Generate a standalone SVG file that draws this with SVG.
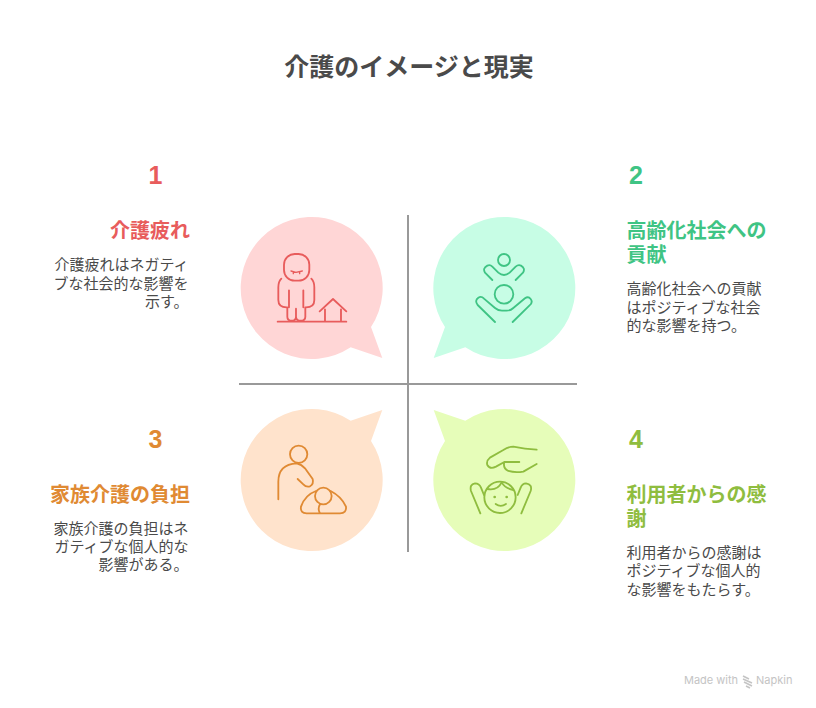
<svg xmlns="http://www.w3.org/2000/svg" width="816" height="708" viewBox="0 0 816 708">
<style>
text{font-family:"Noto Sans CJK JP","Noto Sans",sans-serif;fill:#4a4a4a}
.t{font-size:25px;font-weight:700;text-anchor:middle}
.n{font-family:"Liberation Sans",sans-serif;font-size:25px;font-weight:700;text-anchor:middle}
.h{font-size:20px;font-weight:700}
.b{font-size:15px}
.e{text-anchor:end}
.i{fill:none;stroke-width:5.500;stroke-linecap:round;stroke-linejoin:round}
.ax{stroke:#999;stroke-width:2;fill:none}
.wm{font-family:Inter,Roboto,sans-serif;font-size:11px;fill:#c4c4c4}
</style>
<rect width="816" height="708" fill="#fff"/>
<text class="t" x="409" y="76">介護のイメージと現実</text>
<g id="connectors">
<path class="ax" d="M408 215V552M239 384H577"/>
</g>
<g id="node1">
<path fill="#ffd6d6" d="M371 327L382.300 358L350.700 347.300A71 71 0 1 1 371 327Z"/>
<g class="i" stroke="#e85c5c" transform="translate(230 210) scale(.3333)">
<rect x="162" y="132" width="76" height="80" rx="32"/>
<path d="M183 183L198 187L217 183M190 186V191M209 186V191" stroke-width="4"/>
<path d="M154 206Q145 215 145 232V270Q145 292 170 292M177 241V292M172 292V320Q172 332 185 332Q198 332 198 320V296M198 320Q198 332 212 332Q226 332 226 320V292M220 241V292M244 206Q253 215 253 232V270Q253 292 228 292"/>
<path d="M143 335H349M269 304L309 267L349 304M285 298V335M333 298V335"/>
</g>
<text class="n" x="155.500" y="184" style="fill:#e85c5c">1</text>
<text class="h e" x="190" y="238" style="fill:#e85c5c">介護疲れ</text>
<text class="b e" x="188.500" y="270">介護疲れはネガティ</text>
<text class="b e" x="188.500" y="289">ブな社会的な影響を</text>
<text class="b e" x="188.500" y="307">示す。</text>
</g>
<g id="node2">
<path fill="#c7fde5" d="M445 327L433.700 358L465.300 347.300A71 71 0 1 0 445 327Z"/>
<g class="i" stroke="#3fc484" transform="translate(410 210) scale(.3333)">
<circle cx="282" cy="150" r="18"/>
<path d="M247 210L225 188Q217 175 232 167Q240 163 247 170L265 188Q282 202 299 188L317 170Q325 163 333 167Q347 175 339 188L317 210"/>
<circle cx="282" cy="253" r="28"/>
<path d="M255 336L203 285Q193 272 205 263Q214 257 222 266L255 294Q264 302 276 302H290Q302 302 310 294L345 265Q355 258 362 267Q370 277 358 287L308 336"/>
</g>
<text class="n" x="636" y="184" style="fill:#3fc484">2</text>
<text class="h" x="626.500" y="238" style="fill:#3fc484">高齢化社会への</text>
<text class="h" x="626.500" y="262" style="fill:#3fc484">貢献</text>
<text class="b" x="626.500" y="294">高齢化社会への貢献</text>
<text class="b" x="626.500" y="313">はポジティブな社会</text>
<text class="b" x="626.500" y="331">的な影響を持つ。</text>
</g>
<g id="node3">
<path fill="#ffe3cc" d="M371 441L382.300 410L350.700 420.700A71 71 0 1 0 371 441Z"/>
<g class="i" stroke="#e08a33" transform="translate(230 385) scale(.3333)">
<circle cx="206" cy="208" r="26"/>
<path d="M145 343V290Q145 238 200 235Q215 238 225 250L248 282Q252 297 240 304Q228 307 220 298L203 282"/>
<circle cx="280" cy="333" r="25"/>
<path d="M258 318Q225 330 213 365Q210 385 230 385H330Q350 385 348 365Q335 335 302 318M270 358Q262 372 270 385"/>
</g>
<text class="n" x="155.500" y="448" style="fill:#e08a33">3</text>
<text class="h e" x="190" y="502" style="fill:#e08a33">家族介護の負担</text>
<text class="b e" x="188.500" y="534">家族介護の負担はネ</text>
<text class="b e" x="188.500" y="552">ガティブな個人的な</text>
<text class="b e" x="188.500" y="570">影響がある。</text>
</g>
<g id="node4">
<path fill="#e6fdb9" d="M445 441L433.700 410L465.300 420.700A71 71 0 1 1 445 441Z"/>
<g class="i" stroke="#8fbd3f" transform="translate(410 385) scale(.3333)">
<path d="M380 194Q345 192 310 185Q295 185 280 195L240 218Q228 228 232 240Q240 254 258 245L283 231H328M283 231Q278 250 295 258Q315 264 340 260L380 237"/>
<circle cx="270" cy="337" r="47"/>
<path d="M232 312Q262 318 275 292M275 292Q285 310 310 315M257 357Q272 368 288 357"/>
<path d="M254 336H254.100M290 336H290.100" stroke-width="8"/>
<path d="M211 385L183 318Q178 298 195 295Q208 295 213 308L222 330M334 385L362 318Q368 298 348 295Q337 295 332 308L323 330"/>
</g>
<text class="n" x="636" y="448" style="fill:#8fbd3f">4</text>
<text class="h" x="626.500" y="502" style="fill:#8fbd3f">利用者からの感</text>
<text class="h" x="626.500" y="526" style="fill:#8fbd3f">謝</text>
<text class="b" x="626.500" y="558">利用者からの感謝は</text>
<text class="b" x="626.500" y="576">ポジティブな個人的</text>
<text class="b" x="626.500" y="595">な影響をもたらす。</text>
</g>
<g id="watermark">
<text class="wm" x="684" y="684">Made with</text>
<path d="M743 676L749 679M743 679L752 683M744 682L752 686M746 686L750 688" fill="none" stroke="#c4c4c4" stroke-width="1.600"/>
<text class="wm" x="756" y="684">Napkin</text>
</g>
</svg>
